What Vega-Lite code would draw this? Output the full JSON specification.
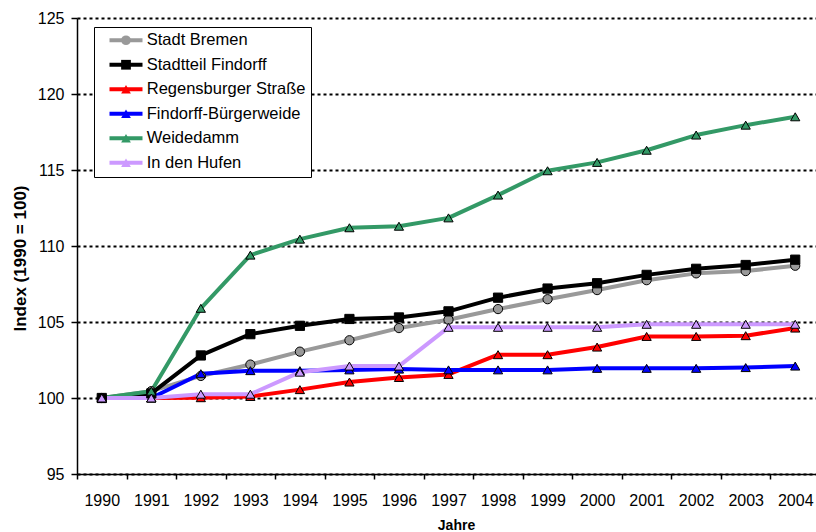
{
  "$schema": "https://vega.github.io/schema/vega-lite/v6.json",
  "autosize": "none",
  "padding": {"left": 77, "top": 18, "right": 0, "bottom": 58},
  "width": 743,
  "height": 456,
  "background": "white",
  "config": {
    "view": {"stroke": null},
    "font": "Liberation Sans"
  },
  "data": {
    "values": [
      {"year": 1990, "series": "Stadt Bremen", "value": 100},
      {"year": 1991, "series": "Stadt Bremen", "value": 100.45},
      {"year": 1992, "series": "Stadt Bremen", "value": 101.45},
      {"year": 1993, "series": "Stadt Bremen", "value": 102.2},
      {"year": 1994, "series": "Stadt Bremen", "value": 103.05},
      {"year": 1995, "series": "Stadt Bremen", "value": 103.8},
      {"year": 1996, "series": "Stadt Bremen", "value": 104.6},
      {"year": 1997, "series": "Stadt Bremen", "value": 105.15},
      {"year": 1998, "series": "Stadt Bremen", "value": 105.85},
      {"year": 1999, "series": "Stadt Bremen", "value": 106.5},
      {"year": 2000, "series": "Stadt Bremen", "value": 107.1},
      {"year": 2001, "series": "Stadt Bremen", "value": 107.75},
      {"year": 2002, "series": "Stadt Bremen", "value": 108.2},
      {"year": 2003, "series": "Stadt Bremen", "value": 108.35},
      {"year": 2004, "series": "Stadt Bremen", "value": 108.7},
      {"year": 1990, "series": "Stadtteil Findorff", "value": 100},
      {"year": 1991, "series": "Stadtteil Findorff", "value": 100.3},
      {"year": 1992, "series": "Stadtteil Findorff", "value": 102.8},
      {"year": 1993, "series": "Stadtteil Findorff", "value": 104.2},
      {"year": 1994, "series": "Stadtteil Findorff", "value": 104.75},
      {"year": 1995, "series": "Stadtteil Findorff", "value": 105.2},
      {"year": 1996, "series": "Stadtteil Findorff", "value": 105.3},
      {"year": 1997, "series": "Stadtteil Findorff", "value": 105.7},
      {"year": 1998, "series": "Stadtteil Findorff", "value": 106.6},
      {"year": 1999, "series": "Stadtteil Findorff", "value": 107.2},
      {"year": 2000, "series": "Stadtteil Findorff", "value": 107.55},
      {"year": 2001, "series": "Stadtteil Findorff", "value": 108.1},
      {"year": 2002, "series": "Stadtteil Findorff", "value": 108.5},
      {"year": 2003, "series": "Stadtteil Findorff", "value": 108.75},
      {"year": 2004, "series": "Stadtteil Findorff", "value": 109.1},
      {"year": 1990, "series": "Regensburger Straße", "value": 100},
      {"year": 1991, "series": "Regensburger Straße", "value": 100},
      {"year": 1992, "series": "Regensburger Straße", "value": 100.02},
      {"year": 1993, "series": "Regensburger Straße", "value": 100.1},
      {"year": 1994, "series": "Regensburger Straße", "value": 100.55},
      {"year": 1995, "series": "Regensburger Straße", "value": 101.05},
      {"year": 1996, "series": "Regensburger Straße", "value": 101.35},
      {"year": 1997, "series": "Regensburger Straße", "value": 101.55},
      {"year": 1998, "series": "Regensburger Straße", "value": 102.85},
      {"year": 1999, "series": "Regensburger Straße", "value": 102.85},
      {"year": 2000, "series": "Regensburger Straße", "value": 103.35},
      {"year": 2001, "series": "Regensburger Straße", "value": 104.05},
      {"year": 2002, "series": "Regensburger Straße", "value": 104.05},
      {"year": 2003, "series": "Regensburger Straße", "value": 104.1},
      {"year": 2004, "series": "Regensburger Straße", "value": 104.6},
      {"year": 1990, "series": "Findorff-Bürgerweide", "value": 100},
      {"year": 1991, "series": "Findorff-Bürgerweide", "value": 100},
      {"year": 1992, "series": "Findorff-Bürgerweide", "value": 101.6},
      {"year": 1993, "series": "Findorff-Bürgerweide", "value": 101.8},
      {"year": 1994, "series": "Findorff-Bürgerweide", "value": 101.8},
      {"year": 1995, "series": "Findorff-Bürgerweide", "value": 101.85},
      {"year": 1996, "series": "Findorff-Bürgerweide", "value": 101.9},
      {"year": 1997, "series": "Findorff-Bürgerweide", "value": 101.85},
      {"year": 1998, "series": "Findorff-Bürgerweide", "value": 101.85},
      {"year": 1999, "series": "Findorff-Bürgerweide", "value": 101.85},
      {"year": 2000, "series": "Findorff-Bürgerweide", "value": 101.95},
      {"year": 2001, "series": "Findorff-Bürgerweide", "value": 101.95},
      {"year": 2002, "series": "Findorff-Bürgerweide", "value": 101.95},
      {"year": 2003, "series": "Findorff-Bürgerweide", "value": 102.0},
      {"year": 2004, "series": "Findorff-Bürgerweide", "value": 102.1},
      {"year": 1990, "series": "Weidedamm", "value": 100},
      {"year": 1991, "series": "Weidedamm", "value": 100.45},
      {"year": 1992, "series": "Weidedamm", "value": 105.9},
      {"year": 1993, "series": "Weidedamm", "value": 109.4},
      {"year": 1994, "series": "Weidedamm", "value": 110.45},
      {"year": 1995, "series": "Weidedamm", "value": 111.2},
      {"year": 1996, "series": "Weidedamm", "value": 111.3},
      {"year": 1997, "series": "Weidedamm", "value": 111.85},
      {"year": 1998, "series": "Weidedamm", "value": 113.35},
      {"year": 1999, "series": "Weidedamm", "value": 114.95},
      {"year": 2000, "series": "Weidedamm", "value": 115.5},
      {"year": 2001, "series": "Weidedamm", "value": 116.3},
      {"year": 2002, "series": "Weidedamm", "value": 117.3},
      {"year": 2003, "series": "Weidedamm", "value": 117.95},
      {"year": 2004, "series": "Weidedamm", "value": 118.5},
      {"year": 1990, "series": "In den Hufen", "value": 100},
      {"year": 1991, "series": "In den Hufen", "value": 100},
      {"year": 1992, "series": "In den Hufen", "value": 100.25},
      {"year": 1993, "series": "In den Hufen", "value": 100.25},
      {"year": 1994, "series": "In den Hufen", "value": 101.7},
      {"year": 1995, "series": "In den Hufen", "value": 102.1},
      {"year": 1996, "series": "In den Hufen", "value": 102.1},
      {"year": 1997, "series": "In den Hufen", "value": 104.65},
      {"year": 1998, "series": "In den Hufen", "value": 104.65},
      {"year": 1999, "series": "In den Hufen", "value": 104.65},
      {"year": 2000, "series": "In den Hufen", "value": 104.65},
      {"year": 2001, "series": "In den Hufen", "value": 104.85},
      {"year": 2002, "series": "In den Hufen", "value": 104.85},
      {"year": 2003, "series": "In den Hufen", "value": 104.85},
      {"year": 2004, "series": "In den Hufen", "value": 104.85}
    ]
  },
  "encoding": {
    "x": {
      "field": "year",
      "type": "ordinal",
      "bandPosition": 0.5,
      "scale": {"type": "band", "paddingInner": 0, "paddingOuter": 0},
      "axis": {
        "title": "Jahre",
        "titleFont": "Liberation Sans",
        "titleFontSize": 14,
        "titleFontWeight": "bold",
        "titleColor": "black",
        "titleX": 379,
        "titleY": 55,
        "titleBaseline": "alphabetic",
        "titleAlign": "center",
        "labelAngle": 0,
        "labelFont": "Liberation Sans",
        "labelFontSize": 16,
        "labelColor": "black",
        "labelBaseline": "alphabetic",
        "labelPadding": 26,
        "tickBand": "extent",
        "tickSize": 5,
        "tickColor": "black",
        "tickWidth": 1.5,
        "domainColor": "black",
        "domainWidth": 1.5,
        "grid": false
      }
    },
    "y": {
      "field": "value",
      "type": "quantitative",
      "scale": {"domain": [95, 125], "nice": false, "zero": false},
      "axis": {
        "values": [95, 100, 105, 110, 115, 120, 125],
        "title": "Index (1990 = 100)",
        "titleFont": "Liberation Sans",
        "titleFontSize": 17,
        "titleFontWeight": "bold",
        "titleColor": "black",
        "titleX": -57,
        "titleY": 240,
        "titleAngle": 270,
        "titleAlign": "center",
        "titleBaseline": "middle",
        "labelFont": "Liberation Sans",
        "labelFontSize": 16,
        "labelColor": "black",
        "labelPadding": 7,
        "tickSize": 6,
        "tickColor": "black",
        "tickWidth": 1.5,
        "domainColor": "black",
        "domainWidth": 1.5,
        "grid": true,
        "gridColor": "black",
        "gridDash": [3, 3],
        "gridWidth": 2,
        "gridOpacity": 1
      }
    }
  },
  "layer": [
    {
      "mark": {"type": "line", "strokeWidth": 4, "strokeJoin": "round"},
      "encoding": {
        "stroke": {
          "field": "series",
          "type": "nominal",
          "sort": ["Stadt Bremen", "Stadtteil Findorff", "Regensburger Straße", "Findorff-Bürgerweide", "Weidedamm", "In den Hufen"],
          "scale": {"range": ["#999999", "#000000", "#FF0000", "#0000FF", "#339966", "#CC99FF"]},
          "legend": {
            "title": null,
            "orient": "none",
            "legendX": 17,
            "legendY": 9,
            "padding": 5,
            "rowPadding": 7.5,
            "symbolType": "M-3,0H3",
            "symbolSize": 121,
            "symbolStrokeWidth": 4,
            "symbolOffset": 18.75,
            "labelOffset": 12.5,
            "labelFont": "Liberation Sans",
            "labelFontSize": 16.5,
            "labelColor": "black",
            "labelLimit": 400,
            "labelExpr": "datum.label + '\u00a0\u00a0\u00a0\u00a0\u00a0'",
            "strokeColor": "black",
            "fillColor": "white",
            "zindex": 1
          }
        }
      }
    },
    {
      "mark": {"type": "point", "filled": true, "size": 85, "stroke": "black", "strokeWidth": 1, "opacity": 1},
      "encoding": {
        "shape": {
          "field": "series",
          "type": "nominal",
          "scale": {
            "domain": ["Stadt Bremen", "Stadtteil Findorff", "Regensburger Straße", "Findorff-Bürgerweide", "Weidedamm", "In den Hufen"],
            "range": ["circle", "square", "triangle-up", "triangle-up", "triangle-up", "triangle-up"]
          },
          "legend": {
            "title": null,
            "orient": "none",
            "legendX": 17,
            "legendY": 9,
            "padding": 5,
            "rowPadding": 7.5,
            "symbolSize": 95,
            "symbolStrokeColor": "black",
            "symbolStrokeWidth": 1,
            "symbolOffset": 18.75,
            "labelOffset": 12.5,
            "labelFont": "Liberation Sans",
            "labelFontSize": 16.5,
            "labelOpacity": 0,
            "labelLimit": 400,
            "zindex": 2,
            "encode": {"symbols": {"update": {"stroke": {"value": "black"}, "strokeWidth": {"value": 1}, "opacity": {"value": 1}}}}
          }
        },
        "fill": {
          "field": "series",
          "type": "nominal",
          "scale": {
            "domain": ["Stadt Bremen", "Stadtteil Findorff", "Regensburger Straße", "Findorff-Bürgerweide", "Weidedamm", "In den Hufen"],
            "range": ["#999999", "#000000", "#FF0000", "#0000FF", "#339966", "#CC99FF"]
          },
          "legend": {
            "title": null,
            "orient": "none",
            "legendX": 17,
            "legendY": 9,
            "padding": 5,
            "rowPadding": 7.5,
            "symbolSize": 95,
            "symbolStrokeColor": "black",
            "symbolStrokeWidth": 1,
            "symbolOffset": 18.75,
            "labelOffset": 12.5,
            "labelFont": "Liberation Sans",
            "labelFontSize": 16.5,
            "labelOpacity": 0,
            "labelLimit": 400,
            "zindex": 2,
            "encode": {"symbols": {"update": {"stroke": {"value": "black"}, "strokeWidth": {"value": 1}, "opacity": {"value": 1}}}}
          }
        }
      }
    }
  ]
}
